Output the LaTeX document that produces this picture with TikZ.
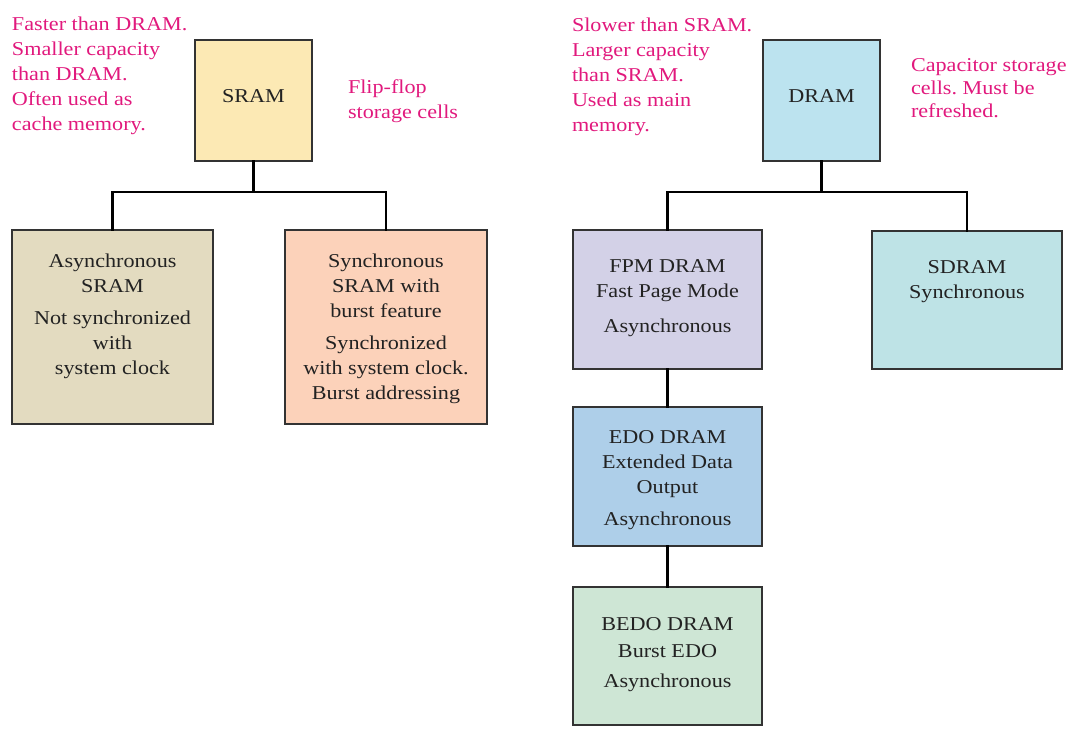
\documentclass[tikz,border=0pt]{standalone}
\usepackage{fontspec}
\setmainfont{Liberation Serif}[FakeStretch=1.13]
\frenchspacing
\definecolor{note}{RGB}{225,25,125}
\definecolor{ink}{RGB}{34,34,34}
\definecolor{edge}{RGB}{51,51,51}
\definecolor{cSram}{RGB}{252,233,180}
\definecolor{cAsync}{RGB}{227,219,192}
\definecolor{cSync}{RGB}{252,210,186}
\definecolor{cDram}{RGB}{188,227,239}
\definecolor{cFpm}{RGB}{211,209,231}
\definecolor{cSdram}{RGB}{190,227,230}
\definecolor{cEdo}{RGB}{174,207,233}
\definecolor{cBedo}{RGB}{206,230,213}
\newcommand{\btext}[4]{\parbox[c][#1][t]{#2}{\centering\rule{0pt}{#3}#4}}
\newcommand{\ntext}[2]{\parbox[t]{#1}{\raggedright #2}}
\begin{document}
\begin{tikzpicture}[x=1pt,y=-1pt,
  memb/.style={draw=edge,line width=1.3pt,inner sep=0pt,outer sep=0pt,text=ink,
    font=\fontsize{19.6}{25}\selectfont},
  notes/.style={inner sep=0pt,outer sep=0pt,anchor=base west,text=note,
    font=\fontsize{19.6}{25}\selectfont},
  conn/.style={line width=2.8pt,black,line join=miter,line cap=rect}]
\useasboundingbox (0,0) rectangle (1073,731);

% SRAM side
\node[memb,fill=cSram] (sram) at (253.5,100.5) {\btext{121pt}{117pt}{62pt}{SRAM}};
\node[memb,fill=cAsync] (async) at (112.5,327) {\btext{194pt}{201pt}{37pt}{Asynchronous\\SRAM\\[7pt]Not synchronized\\with\\system clock}};
\node[memb,fill=cSync] (sync) at (386,327) {\btext{194pt}{202pt}{37pt}{Synchronous\\SRAM with\\burst feature\\[7pt]Synchronized\\with system clock.\\Burst addressing}};

\node[notes] (sramnote) at (12,30) {\ntext{200pt}{Faster than DRAM.\\Smaller capacity\\than DRAM.\\Often used as\\cache memory.}};
\node[notes] (sramcell) at (348,93) {\ntext{150pt}{Flip-flop\\storage cells}};

\coordinate (sj) at (253.5,192);
\draw[conn] (sram.south) -- (sj);
\draw[conn] (async.north) |- (sj) -| (sync.north);

% DRAM side
\node[memb,fill=cDram] (dram) at (821.5,100.5) {\btext{121pt}{117pt}{62pt}{DRAM}};
\node[memb,fill=cFpm] (fpm) at (667.5,299.5) {\btext{139pt}{189pt}{42pt}{FPM DRAM\\Fast Page Mode\\[10pt]Asynchronous}};
\node[memb,fill=cSdram] (sdram) at (967,300) {\btext{138pt}{190pt}{42pt}{SDRAM\\Synchronous}};
\node[memb,fill=cEdo] (edo) at (667.5,476.5) {\btext{139pt}{189pt}{36pt}{EDO DRAM\\Extended Data\\Output\\[7pt]Asynchronous}};
\node[memb,fill=cBedo] (bedo) at (667.5,656) {\btext{138pt}{189pt}{43pt}{BEDO DRAM\\[2pt]Burst EDO\\[5pt]Asynchronous}};

\node[notes] (dramnote) at (572,31) {\ntext{200pt}{Slower than SRAM.\\Larger capacity\\than SRAM.\\Used as main\\memory.}};
\node[notes,font=\fontsize{19.6}{23.3}\selectfont] (dramcell) at (911,71) {\ntext{165pt}{Capacitor storage\\cells. Must be\\refreshed.}};

\coordinate (dj) at (821.5,192);
\draw[conn] (dram.south) -- (dj);
\draw[conn] (fpm.north) |- (dj) -| (sdram.north);
\draw[conn] (fpm.south) -- (edo.north);
\draw[conn] (edo.south) -- (bedo.north);
\end{tikzpicture}
\end{document}
